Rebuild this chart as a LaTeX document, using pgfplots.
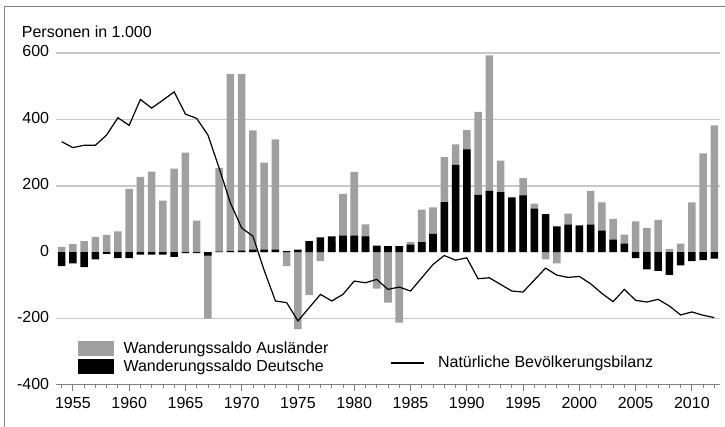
\documentclass[border=0pt]{standalone}
\usepackage{pgfplots}
\usepackage{pgfplotstable}
\pgfplotsset{compat=1.18}
\usepackage{fontspec}
\setmainfont{Liberation Sans}
\definecolor{barA}{HTML}{A0A0A0}
\definecolor{gridc}{HTML}{C8C8C8}
\definecolor{axc}{HTML}{808080}
\definecolor{framec}{HTML}{7F7F7F}

\pgfplotstableread{
year A D N
1954 16 -42 333
1955 24 -34 315
1956 33 -45 322
1957 46 -22 322
1958 52 -5 353
1959 63 -18 405
1960 191 -18 382
1961 227 -7 460
1962 243 -7 434
1963 155 -7 458
1964 252 -14 483
1965 300 -3 416
1966 95 -3 403
1967 -200 -10 353
1968 253 2 253
1969 536 3 148
1970 536 5 73
1971 367 8 48
1972 270 8 -55
1973 340 8 -147
1974 -42 3 -152
1975 -232 8 -207
1976 -129 33 -167
1977 -27 45 -127
1978 30 48 -147
1979 176 50 -127
1980 242 50 -87
1981 84 48 -92
1982 -110 20 -82
1983 -152 18 -112
1984 -212 18 -105
1985 30 23 -117
1986 128 30 -77
1987 135 55 -37
1988 286 151 -10
1989 325 263 -24
1990 368 310 -17
1991 423 173 -80
1992 593 185 -77
1993 276 181 -97
1994 150 165 -117
1995 223 171 -120
1996 146 131 -84
1997 -22 115 -48
1998 -34 78 -69
1999 116 83 -76
2000 78 81 -73
2001 185 83 -95
2002 150 65 -124
2003 100 38 -149
2004 53 26 -112
2005 93 -18 -145
2006 73 -52 -150
2007 97 -56 -142
2008 10 -68 -162
2009 26 -40 -189
2010 150 -27 -180
2011 298 -24 -190
2012 382 -19 -197
}\datatable

\begin{document}
\fontsize{16pt}{19pt}\selectfont
\begin{tikzpicture}[x=1pt,y=1pt]
\path[use as bounding box] (0,0) rectangle (725,427);
\draw[framec, line width=1.3pt] (4.5,0) -- (4.5,420.5) -- (725,420.5);
\node[anchor=base west, inner sep=0pt] at (21.7,389.7) {Personen in 1.000};
\begin{axis}[
  at={(56pt,42pt)}, anchor=south west,
  scale only axis, width=664pt, height=332pt,
  xmin=1953.5, xmax=2012.5, ymin=-400, ymax=600,
  axis x line*=bottom, axis y line*=left,
  x axis line style={axc, line width=1pt, -},
  y axis line style={draw=none},
  xtick={1955,1960,...,2010},
  xticklabels={1955,1960,1965,1970,1975,1980,1985,1990,1995,2000,2005,2010},
  minor xtick={1954,...,2012},
  xtick align=outside,
  major tick length=6pt, minor tick length=3.5pt,
  xtick style={axc, line width=0.8pt},
  xticklabel style={anchor=north, inner sep=0pt, yshift=-6.5pt},
  ytick={-400,-200,0,200,400,600},
  yticklabels={-400,-200,0,200,400,600},
  ytick style={draw=none},
  yticklabel style={anchor=east, inner sep=0pt, xshift=-6.7pt, yshift=1.5pt},
  extra y ticks={-200,200,400,600},
  extra y tick labels={},
  extra y tick style={grid=major, ytick style={draw=none}},
  grid style={gridc, line width=1.5pt},
  legend style={at={(rel axis cs:0.0321,0.1325)}, anchor=north west,
    draw=none, fill=none, inner sep=0pt, row sep=3pt,
    nodes={inner sep=0pt},
    /tikz/every odd column/.append style={column sep=10pt}},
  legend cell align=left,
]
\addplot[ybar, bar shift=0pt, bar width=0.67, fill=barA, draw=none,
  legend image code/.code={\fill[barA] (0pt,-7.5pt) rectangle (36pt,7.5pt);}]
  table[x=year, y=A]{\datatable};
\addlegendentry{Wanderungssaldo Ausländer}
\addplot[ybar, bar shift=0pt, bar width=0.67, fill=black, draw=none,
  legend image code/.code={\fill[black] (0pt,-7.5pt) rectangle (36pt,7.5pt);}]
  table[x=year, y=D]{\datatable};
\addlegendentry{Wanderungssaldo Deutsche}
\addplot[black, line width=1.2pt, mark=none, forget plot]
  table[x=year, y=N]{\datatable};
\end{axis}
\begin{axis}[
  at={(56pt,42pt)}, anchor=south west,
  scale only axis, width=664pt, height=332pt,
  xmin=0, xmax=1, ymin=0, ymax=1, hide axis,
  legend image code/.code={\draw[black, line width=1.2pt] (0pt,0pt) -- (33pt,0pt);},
  legend style={at={(rel axis cs:0.504,0.066)}, anchor=west,
    draw=none, fill=none, inner sep=0pt,
    nodes={inner sep=0pt},
    /tikz/every odd column/.append style={column sep=13pt}},
]
\addlegendimage{black, line width=1.2pt}
\addlegendentry{Natürliche Bevölkerungsbilanz}
\end{axis}
\end{tikzpicture}
\end{document}
